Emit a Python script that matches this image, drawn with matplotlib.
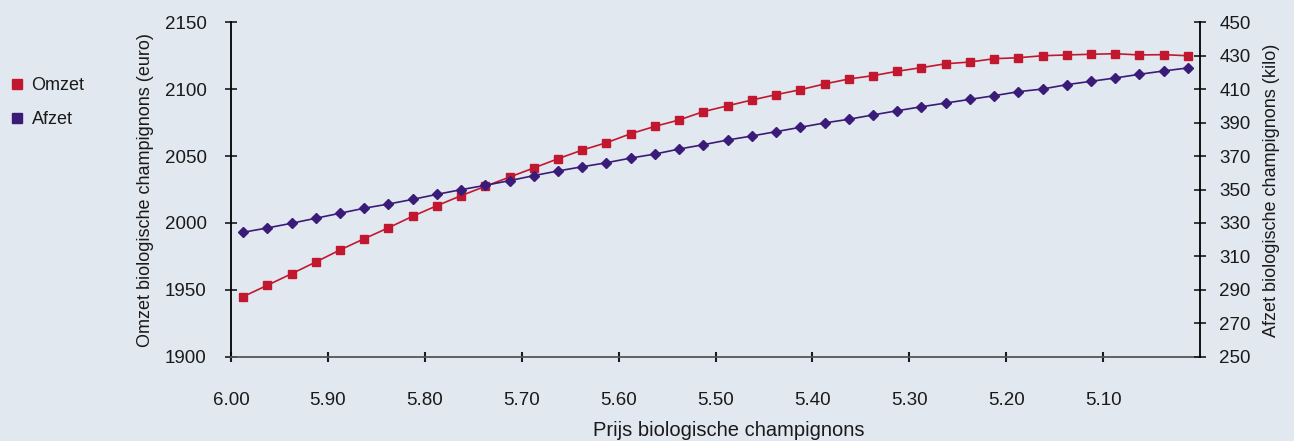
import matplotlib

matplotlib.use("Agg")
import matplotlib.pyplot as plt
from matplotlib.lines import Line2D
import numpy as np

# Prijs per categorie (40 stappen van 0.025)
prijs = [
    6.000, 5.975, 5.950, 5.925, 5.900, 5.875, 5.850, 5.825, 5.800, 5.775,
    5.750, 5.725, 5.700, 5.675, 5.650, 5.625, 5.600, 5.575, 5.550, 5.525,
    5.500, 5.475, 5.450, 5.425, 5.400, 5.375, 5.350, 5.325, 5.300, 5.275,
    5.250, 5.225, 5.200, 5.175, 5.150, 5.125, 5.100, 5.075, 5.050, 5.025,
]

omzet = [
    1944.9, 1953.4, 1962.0, 1970.8, 1979.8, 1988.2, 1996.4, 2005.0, 2012.9, 2020.4,
    2027.4, 2034.3, 2041.1, 2048.0, 2054.5, 2060.0, 2066.7, 2072.2, 2077.0, 2083.2,
    2087.6, 2091.9, 2095.9, 2099.6, 2103.9, 2107.6, 2110.1, 2113.4, 2116.1, 2119.0,
    2120.3, 2122.8, 2123.5, 2125.0, 2125.6, 2126.1, 2126.5, 2125.6, 2125.8, 2125.0,
]

afzet = [
    324.4, 327.0, 329.8, 332.8, 335.8, 338.8, 341.3, 344.1, 347.1, 349.9,
    352.5, 355.3, 358.3, 361.1, 363.6, 366.0, 368.8, 371.2, 374.2, 376.8,
    379.6, 382.0, 384.6, 387.2, 389.8, 392.0, 394.6, 397.1, 399.5, 401.7,
    403.9, 406.1, 408.5, 410.1, 412.7, 414.7, 416.7, 418.9, 420.9, 422.7,
]

left_ticks = [1900, 1950, 2000, 2050, 2100, 2150]
right_ticks = [250, 270, 290, 310, 330, 350, 370, 390, 410, 430, 450]

BG = "#E2E8F0"
RED = "#C1182F"
BLUE = "#3A1C78"
TEXT = "#1a1a1a"

plt.rcParams["font.family"] = ["Liberation Sans", "DejaVu Sans"]

fig = plt.figure(figsize=(12.94, 4.41), dpi=100)
fig.patch.set_facecolor(BG)
ax = fig.add_axes([231 / 1294, 1 - 356.7 / 441, 969 / 1294, 334.4 / 441])
ax.set_facecolor("none")
ax2 = ax.twinx()
ax2.set_facecolor("none")

idx = np.arange(len(prijs))
ax.plot(idx, omzet, color=RED, lw=1.2, marker="s", ms=5.8, mec=RED, mfc=RED, zorder=3)
ax2.plot(idx, afzet, color=BLUE, lw=1.2, marker="D", ms=5.2, mec=BLUE, mfc=BLUE, zorder=3)

ax.set_xlim(-0.5, len(prijs) - 0.5)
ax.set_ylim(1900, 2150)
ax2.set_ylim(250, 450)

ax.set_xticks(idx[::4] - 0.5)
ax.set_xticklabels([f"{p:.2f}" for p in prijs[::4]])
ax.set_yticks(left_ticks)
ax2.set_yticks(right_ticks)

for a in (ax, ax2):
    a.spines["top"].set_visible(False)
ax.spines["right"].set_visible(False)
ax2.spines["left"].set_visible(False)
ax2.spines["bottom"].set_visible(False)
ax.spines["left"].set_color("black")
ax.spines["left"].set_linewidth(1.3)
ax2.spines["right"].set_color("black")
ax2.spines["right"].set_linewidth(1.3)
ax.spines["bottom"].set_color("#555555")
ax.spines["bottom"].set_linewidth(1.3)

ax.tick_params(axis="y", direction="inout", length=9, width=1.2, pad=13, labelsize=13.5, colors=TEXT)
ax.tick_params(axis="x", direction="inout", length=7, width=1.5, pad=22, labelsize=13.5, colors=TEXT)
ax2.tick_params(axis="y", direction="inout", length=8, width=1.2, pad=10, labelsize=13.5, colors=TEXT)

fig.text(146 / 1294, 1 - 190 / 441, "Omzet biologische champignons (euro)",
         rotation=90, ha="center", va="center", fontsize=13, color=TEXT)
fig.text(1271 / 1294, 1 - 190 / 441, "Afzet biologische champignons (kilo)",
         rotation=90, ha="center", va="center", fontsize=13, color=TEXT)
fig.text(729 / 1294, 1 - 431 / 441, "Prijs biologische champignons",
         ha="center", va="center", fontsize=14.5, color=TEXT)

handles = [
    Line2D([], [], color=RED, marker="s", linestyle="none", ms=7.5),
    Line2D([], [], color=BLUE, marker="s", linestyle="none", ms=7.5),
]
fig.legend(handles, ["Omzet", "Afzet"], loc="upper left", bbox_to_anchor=(0.002, 1 - 70 / 441),
           frameon=False, fontsize=13, handlelength=0.8, handletextpad=0.4,
           labelspacing=0.95, borderaxespad=0.0, labelcolor=TEXT)

fig.savefig("out.png", dpi=100, facecolor=BG)
